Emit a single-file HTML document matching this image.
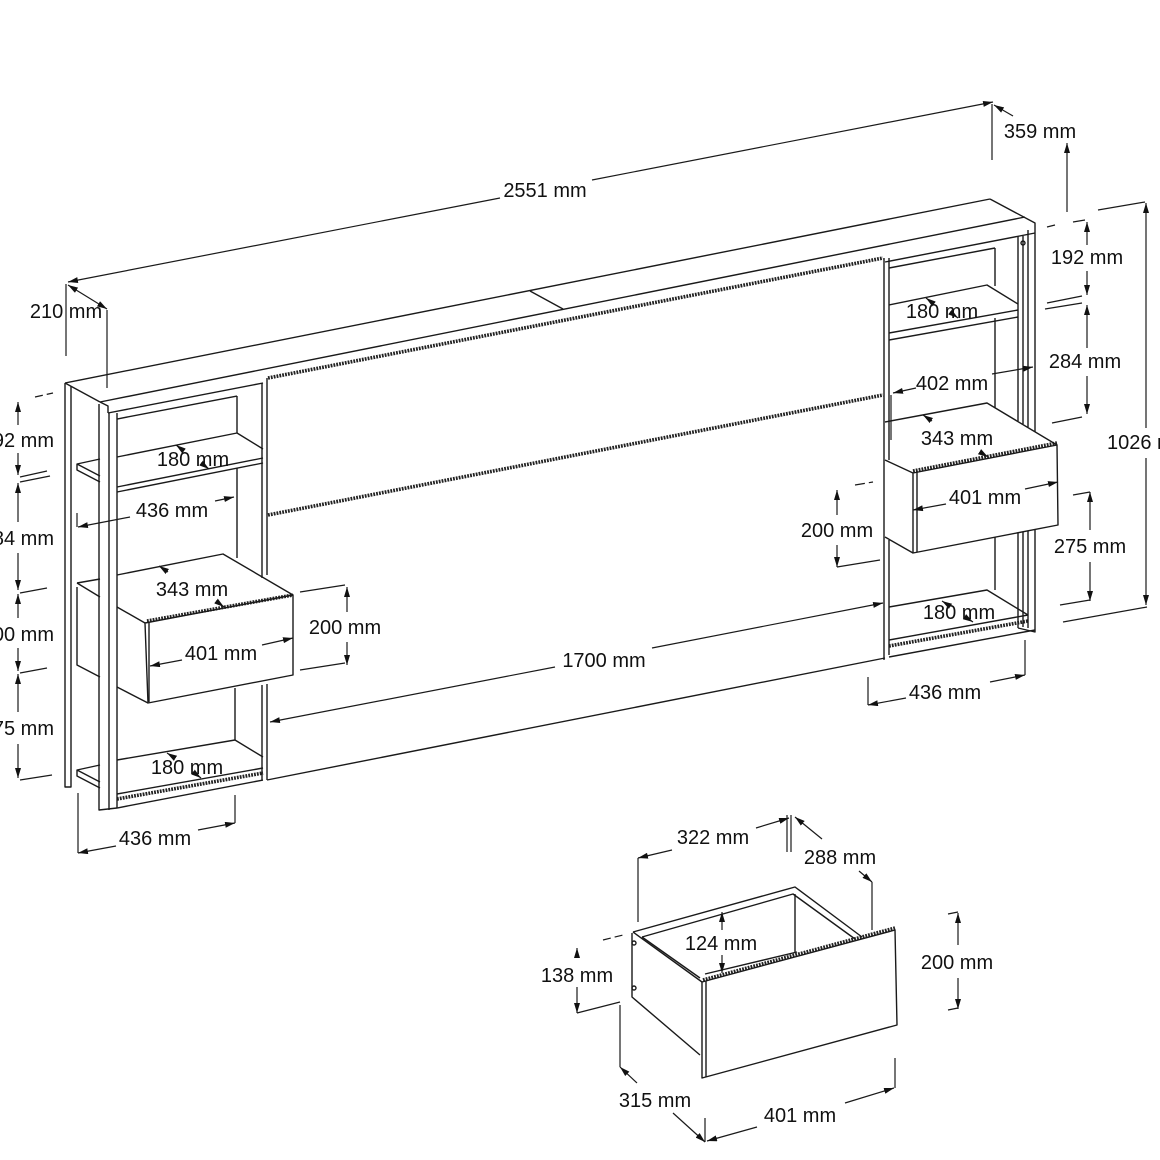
<!DOCTYPE html>
<html><head><meta charset="utf-8"><style>
html,body{margin:0;padding:0;background:#fff;}
svg{display:block;}
text{font-family:"Liberation Sans",Arial,sans-serif;font-size:20px;fill:#111;text-anchor:middle;}
</style></head><body>
<svg width="1160" height="1160" viewBox="0 0 1160 1160" xmlns="http://www.w3.org/2000/svg">
<defs>
<marker id="ar" markerUnits="userSpaceOnUse" viewBox="0 0 10 6" refX="10" refY="3" markerWidth="10" markerHeight="6" orient="auto-start-reverse"><path d="M0,0 L10,3 L0,6 z" fill="#111"/></marker>
</defs>
<rect width="1160" height="1160" fill="#fff"/>

<!-- hatched bands -->
<g stroke="#222" stroke-width="3.6" stroke-dasharray="1.8 1.1" fill="none">
<path d="M268,378 L883,258"/>
<path d="M268,515 L883,395"/>
<path d="M117,799 L263,773"/>
<path d="M889,646 L1028,621"/>
<path d="M147,621 L293,595"/>
<path d="M913,471 L1057,443"/>
<path d="M703,980 L895,928"/>
</g>

<g stroke="#1a1a1a" stroke-width="1.4" fill="none" stroke-linejoin="round">
<!-- top board -->
<path d="M65,383 L990,199"/>
<path d="M100,402 L1025,217"/>
<path d="M65,383 L100,402"/>
<path d="M990,199 L1035,223 L1035,233"/>
<path d="M100,402 L108,406 L108,413"/>
<path d="M108,413 L263,383"/>
<path d="M885,262 L1035,233"/>
<path d="M530,291 L563,309"/>

<!-- left unit side panels -->
<path d="M65,383 L65,787 L71,787 L71,386"/>
<path d="M99,404 L99,810 L117,808"/>
<path d="M109,413 L109,810"/>
<path d="M117,413 L117,808"/>
<path d="M117,419 L237,396"/>
<path d="M237,396 L237,433 M237,468 L237,558 M235,688 L235,740"/>
<path d="M262,383 L262,578 M262,685 L262,780"/>
<path d="M267,378 L267,575 M267,684 L267,780"/>

<!-- left top shelf -->
<path d="M100,459 L77,464 L77,470 L100,482 M77,464 L100,476"/>
<path d="M117,457 L237,433 L263,449"/>
<path d="M117,487 L263,458"/>
<path d="M117,492 L263,463"/>

<!-- left drawer -->
<path d="M77,583 L100,579 M117,575 L223,554 L293,595"/>
<path d="M77,583 L100,597 M117,607 L145,623"/>
<path d="M77,587 L77,665 L100,677 M117,687 L148,703"/>
<path d="M145,623 L293,595 L293,675 L148,703 Z"/>
<path d="M149,622 L149,702"/>

<!-- left bottom shelf -->
<path d="M100,765 L77,770 L77,776 L100,788 M77,770 L100,782"/>
<path d="M117,760 L235,740 L263,757"/>
<path d="M117,794 L263,768"/>
<path d="M117,808 L263,780"/>

<!-- center panel -->
<path d="M267,780 L885,658"/>
<path d="M884,258 L884,660"/>
<path d="M889,258 L889,460 M889,540 L889,655"/>

<!-- right unit -->
<path d="M1018,236 L1018,421 M1018,533 L1018,628"/>
<path d="M1023,236 L1023,424 M1023,532 L1023,627"/>
<path d="M1028,230 L1028,427 M1028,531 L1028,628"/>
<path d="M1018,628 L1035,632 L1035,529 M1035,432 L1035,233"/>
<circle cx="1023" cy="243" r="2"/>
<path d="M889,268 L995,248"/>
<path d="M995,248 L995,286 M995,318 L995,408 M995,537 L995,590"/>
<path d="M889,305 L987,285 L1018,304"/>
<path d="M889,333 L1018,310"/>
<path d="M889,340 L1018,317"/>
<!-- right drawer -->
<path d="M885,422 L987,403 L1057,445"/>
<path d="M913,473 L1057,445 L1058,525 L913,553 Z"/>
<path d="M917,472 L917,552"/>
<path d="M885,460 L913,473 M885,537 L913,553"/>
<!-- right bottom shelf -->
<path d="M889,607 L987,590 L1028,615"/>
<path d="M889,640 L1028,615"/>
<path d="M889,657 L1035,630"/>

<!-- bottom drawer -->
<path d="M633,932 L795,887 L862,937"/>
<path d="M642,937 L793,894 L855,939"/>
<path d="M633,932 L702,982"/>
<path d="M642,937 L700,978"/>
<path d="M632,933 L632,997 L700,1055"/>
<path d="M702,982 L895,930 L897,1025 L702,1078 Z"/>
<path d="M706,981 L706,1077"/>
<path d="M795,894 L795,952"/>
<path d="M705,974 L797,952"/>
<circle cx="634" cy="943" r="2"/>
<circle cx="634" cy="988" r="2"/>
</g>

<!-- dimension lines -->
<g stroke="#1a1a1a" stroke-width="1.2" fill="none">
<!-- 2551 -->
<path d="M68,282 L500,198" marker-start="url(#ar)"/>
<path d="M592,180 L993,102" marker-end="url(#ar)"/>
<path d="M66,284 L66,356"/>
<path d="M992,104 L992,160"/>
<!-- 210 -->
<path d="M68,285 L107,309" marker-start="url(#ar)" marker-end="url(#ar)"/>
<path d="M107,310 L107,388"/>
<!-- 359 -->
<path d="M994,105 L1013,116" marker-start="url(#ar)"/>
<path d="M1067,212 L1067,143" marker-end="url(#ar)"/>

<!-- left vertical dims -->
<path d="M35,397 L53,393" stroke-dasharray="8 4"/>
<path d="M18,425 L18,402" marker-end="url(#ar)"/>
<path d="M18,453 L18,475" marker-end="url(#ar)"/>
<path d="M20,477 L47,471"/>
<path d="M20,482 L50,476"/>
<path d="M18,522 L18,483" marker-end="url(#ar)"/>
<path d="M18,553 L18,590" marker-end="url(#ar)"/>
<path d="M20,593 L47,588"/>
<path d="M18,618 L18,594" marker-end="url(#ar)"/>
<path d="M18,648 L18,671" marker-end="url(#ar)"/>
<path d="M20,673 L47,668"/>
<path d="M18,712 L18,674" marker-end="url(#ar)"/>
<path d="M18,744 L18,778" marker-end="url(#ar)"/>
<path d="M20,780 L52,775"/>

<!-- left unit dims -->
<path d="M176,445 L184,451" marker-start="url(#ar)"/>
<path d="M201,463 L209,469" marker-end="url(#ar)"/>
<path d="M77,513 L77,527"/>
<path d="M78,527 L130,517" marker-start="url(#ar)"/>
<path d="M215,501 L234,497" marker-end="url(#ar)"/>
<path d="M159,566 L168,572" marker-start="url(#ar)"/>
<path d="M216,601 L224,607" marker-end="url(#ar)"/>
<path d="M150,666 L182,660" marker-start="url(#ar)"/>
<path d="M262,645 L293,638" marker-end="url(#ar)"/>
<path d="M300,592 L345,585"/>
<path d="M347,612 L347,587" marker-end="url(#ar)"/>
<path d="M347,642 L347,665" marker-end="url(#ar)"/>
<path d="M300,670 L345,663"/>
<path d="M167,753 L175,758" marker-start="url(#ar)"/>
<path d="M193,772 L201,778" marker-end="url(#ar)"/>
<path d="M78,793 L78,853"/>
<path d="M78,853 L116,846" marker-start="url(#ar)"/>
<path d="M198,830 L235,823" marker-end="url(#ar)"/>
<path d="M235,795 L235,823"/>

<!-- 1700 -->
<path d="M270,722 L555,667" marker-start="url(#ar)"/>
<path d="M652,648 L883,603" marker-end="url(#ar)"/>

<!-- right vertical dims -->
<path d="M1047,227 L1055,225 M1073,222 L1085,220"/>
<path d="M1087,245 L1087,222" marker-end="url(#ar)"/>
<path d="M1087,271 L1087,295" marker-end="url(#ar)"/>
<path d="M1047,303 L1082,296"/>
<path d="M1045,309 L1082,303"/>
<path d="M1087,348 L1087,305" marker-end="url(#ar)"/>
<path d="M1087,376 L1087,414" marker-end="url(#ar)"/>
<path d="M1052,423 L1082,417"/>
<!-- 1026 -->
<path d="M1098,210 L1145,202"/>
<path d="M1146,428 L1146,203" marker-end="url(#ar)"/>
<path d="M1146,458 L1146,605" marker-end="url(#ar)"/>
<path d="M1063,622 L1147,607"/>
<!-- right unit inner dims -->
<path d="M926,298 L934,304" marker-start="url(#ar)"/>
<path d="M950,312 L958,318" marker-end="url(#ar)"/>
<path d="M891,395 L891,440"/>
<path d="M893,393 L916,388" marker-start="url(#ar)"/>
<path d="M992,374 L1033,367" marker-end="url(#ar)"/>
<path d="M923,415 L932,421" marker-start="url(#ar)"/>
<path d="M980,452 L988,457" marker-end="url(#ar)"/>
<path d="M913,510 L946,504" marker-start="url(#ar)"/>
<path d="M1025,489 L1058,482" marker-end="url(#ar)"/>
<path d="M855,485 L873,482" stroke-dasharray="10 4"/>
<path d="M837,515 L837,490" marker-end="url(#ar)"/>
<path d="M837,545 L837,567" marker-end="url(#ar)"/>
<path d="M837,567 L880,560"/>
<path d="M1073,495 L1090,492"/>
<path d="M1090,530 L1090,492" marker-end="url(#ar)"/>
<path d="M1090,562 L1090,601" marker-end="url(#ar)"/>
<path d="M1060,605 L1090,600"/>
<path d="M942,601 L950,606" marker-start="url(#ar)"/>
<path d="M965,617 L973,622" marker-end="url(#ar)"/>
<path d="M868,677 L868,705"/>
<path d="M868,705 L906,698" marker-start="url(#ar)"/>
<path d="M990,682 L1025,675" marker-end="url(#ar)"/>
<path d="M1025,640 L1025,675"/>

<!-- bottom drawer dims -->
<path d="M638,858 L638,922"/>
<path d="M638,858 L672,850" marker-start="url(#ar)"/>
<path d="M756,828 L789,818" marker-end="url(#ar)"/>
<path d="M787,815 L787,852 M791,815 L791,852"/>
<path d="M795,817 L822,839" marker-start="url(#ar)"/>
<path d="M859,871 L872,882" marker-end="url(#ar)"/>
<path d="M872,882 L872,930"/>
<path d="M722,930 L722,912" marker-end="url(#ar)"/>
<path d="M722,955 L722,973" marker-end="url(#ar)"/>
<path d="M577,957 L577,948" marker-end="url(#ar)"/>
<path d="M577,987 L577,1013" marker-end="url(#ar)"/>
<path d="M577,1013 L620,1002"/>
<path d="M603,940 L623,935" stroke-dasharray="8 4"/>
<path d="M948,914 L958,912"/>
<path d="M958,945 L958,913" marker-end="url(#ar)"/>
<path d="M958,978 L958,1009" marker-end="url(#ar)"/>
<path d="M948,1010 L958,1008"/>
<path d="M620,1005 L620,1067"/>
<path d="M620,1067 L637,1083" marker-start="url(#ar)"/>
<path d="M673,1113 L705,1142" marker-end="url(#ar)"/>
<path d="M705,1118 L705,1142"/>
<path d="M707,1141 L757,1127" marker-start="url(#ar)"/>
<path d="M845,1103 L894,1088" marker-end="url(#ar)"/>
<path d="M895,1058 L895,1088"/>
</g>

<!-- labels -->
<g>
<text x="545" y="197">2551 mm</text>
<text x="1040" y="138">359 mm</text>
<text x="66" y="318">210 mm</text>
<text x="54" y="447" style="text-anchor:end">192 mm</text>
<text x="54" y="545" style="text-anchor:end">284 mm</text>
<text x="54" y="641" style="text-anchor:end">200 mm</text>
<text x="54" y="735" style="text-anchor:end">275 mm</text>
<text x="193" y="466">180 mm</text>
<text x="172" y="517">436 mm</text>
<text x="192" y="596">343 mm</text>
<text x="221" y="660">401 mm</text>
<text x="345" y="634">200 mm</text>
<text x="187" y="774">180 mm</text>
<text x="155" y="845">436 mm</text>
<text x="604" y="667">1700 mm</text>
<text x="1087" y="264">192 mm</text>
<text x="1085" y="368">284 mm</text>
<text x="1107" y="449" style="text-anchor:start">1026 mm</text>
<text x="942" y="318">180 mm</text>
<text x="952" y="390">402 mm</text>
<text x="957" y="445">343 mm</text>
<text x="985" y="504">401 mm</text>
<text x="837" y="537">200 mm</text>
<text x="1090" y="553">275 mm</text>
<text x="959" y="619">180 mm</text>
<text x="945" y="699">436 mm</text>
<text x="713" y="844">322 mm</text>
<text x="840" y="864">288 mm</text>
<text x="721" y="950">124 mm</text>
<text x="577" y="982">138 mm</text>
<text x="957" y="969">200 mm</text>
<text x="655" y="1107">315 mm</text>
<text x="800" y="1122">401 mm</text>
</g>
</svg>
</body></html>
